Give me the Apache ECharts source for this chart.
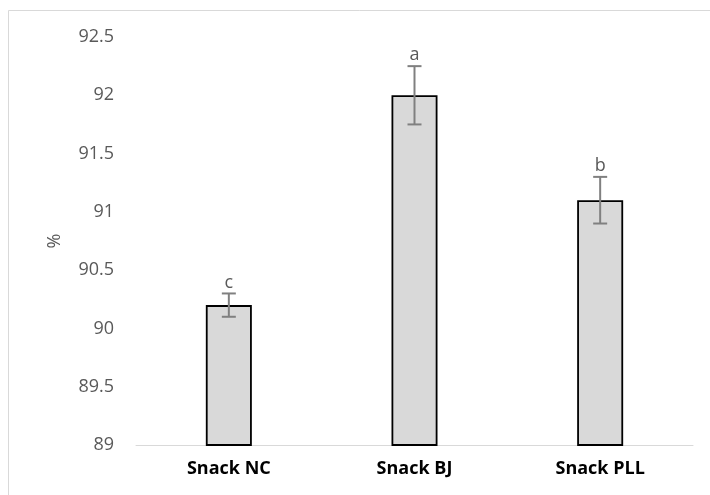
<!DOCTYPE html>
<html>
<head>
<meta charset="utf-8">
<script src="https://cdn.jsdelivr.net/npm/echarts@6/dist/echarts.min.js"></script>
<style>
  html, body { margin: 0; padding: 0; background: #fff; }
  #chart { width: 710px; height: 495px; }
</style>
</head>
<body>
<div id="chart"></div>
<script>
// Mean values with standard deviation and significance letters
const categories = ['Snack NC', 'Snack BJ', 'Snack PLL'];
const means = [90.2, 92.0, 91.1];
const errors = [0.1, 0.25, 0.2];
const letters = ['c', 'a', 'b'];
const yTicks = { min: 89, max: 92.5, interval: 0.5 };

const chart = echarts.init(document.getElementById('chart'), null, { renderer: 'canvas' });

const errData = categories.map((c, i) => [i, means[i] - errors[i], means[i] + errors[i], letters[i]]);

chart.setOption({
  animation: false,
  backgroundColor: '#ffffff',
  graphic: [{
    type: 'rect',
    shape: { x: 8.5, y: 10.5, width: 720, height: 500 },
    style: { fill: 'none', stroke: '#d9d9d9', lineWidth: 1 },
    silent: true
  }],
  grid: { left: 136, right: 17, top: 37, bottom: 50 },
  xAxis: {
    type: 'category',
    data: categories,
    axisLine: { lineStyle: { color: '#d9d9d9', width: 1 } },
    axisTick: { show: false },
    axisLabel: { color: '#000', fontWeight: 'bold', fontSize: 18, margin: 15, fontFamily: 'Open Sans, sans-serif' }
  },
  yAxis: {
    type: 'value',
    min: yTicks.min,
    max: yTicks.max,
    interval: yTicks.interval,
    name: '%',
    nameLocation: 'middle',
    nameRotate: 90,
    nameGap: 72,
    nameTextStyle: { color: '#595959', fontSize: 18, fontFamily: 'Open Sans, sans-serif' },
    axisLine: { show: false },
    axisTick: { show: false },
    splitLine: { show: false },
    axisLabel: { color: '#595959', fontSize: 18, margin: 22, fontFamily: 'Open Sans, sans-serif' }
  },
  series: [
    {
      type: 'bar',
      data: means,
      barWidth: 46,
      itemStyle: { color: '#d9d9d9', borderColor: '#000', borderWidth: 1.8 }
    },
    {
      type: 'custom',
      data: errData,
      z: 10,
      renderItem: function (params, api) {
        const x = api.coord([api.value(0), api.value(1)])[0];
        const lo = api.coord([api.value(0), api.value(1)])[1];
        const hi = api.coord([api.value(0), api.value(2)])[1];
        const cap = 7;
        const st = { stroke: '#808080', lineWidth: 2 };
        return {
          type: 'group',
          children: [
            { type: 'line', shape: { x1: x, y1: hi, x2: x, y2: lo }, style: st },
            { type: 'line', shape: { x1: x - cap, y1: hi, x2: x + cap, y2: hi }, style: st },
            { type: 'line', shape: { x1: x - cap, y1: lo, x2: x + cap, y2: lo }, style: st },
            { type: 'text', style: { text: letters[params.dataIndex], x: x, y: hi - 2, align: 'center', verticalAlign: 'bottom', fill: '#595959', fontSize: 18, fontFamily: 'Open Sans, sans-serif' } }
          ]
        };
      }
    }
  ]
});
</script>
</body>
</html>
